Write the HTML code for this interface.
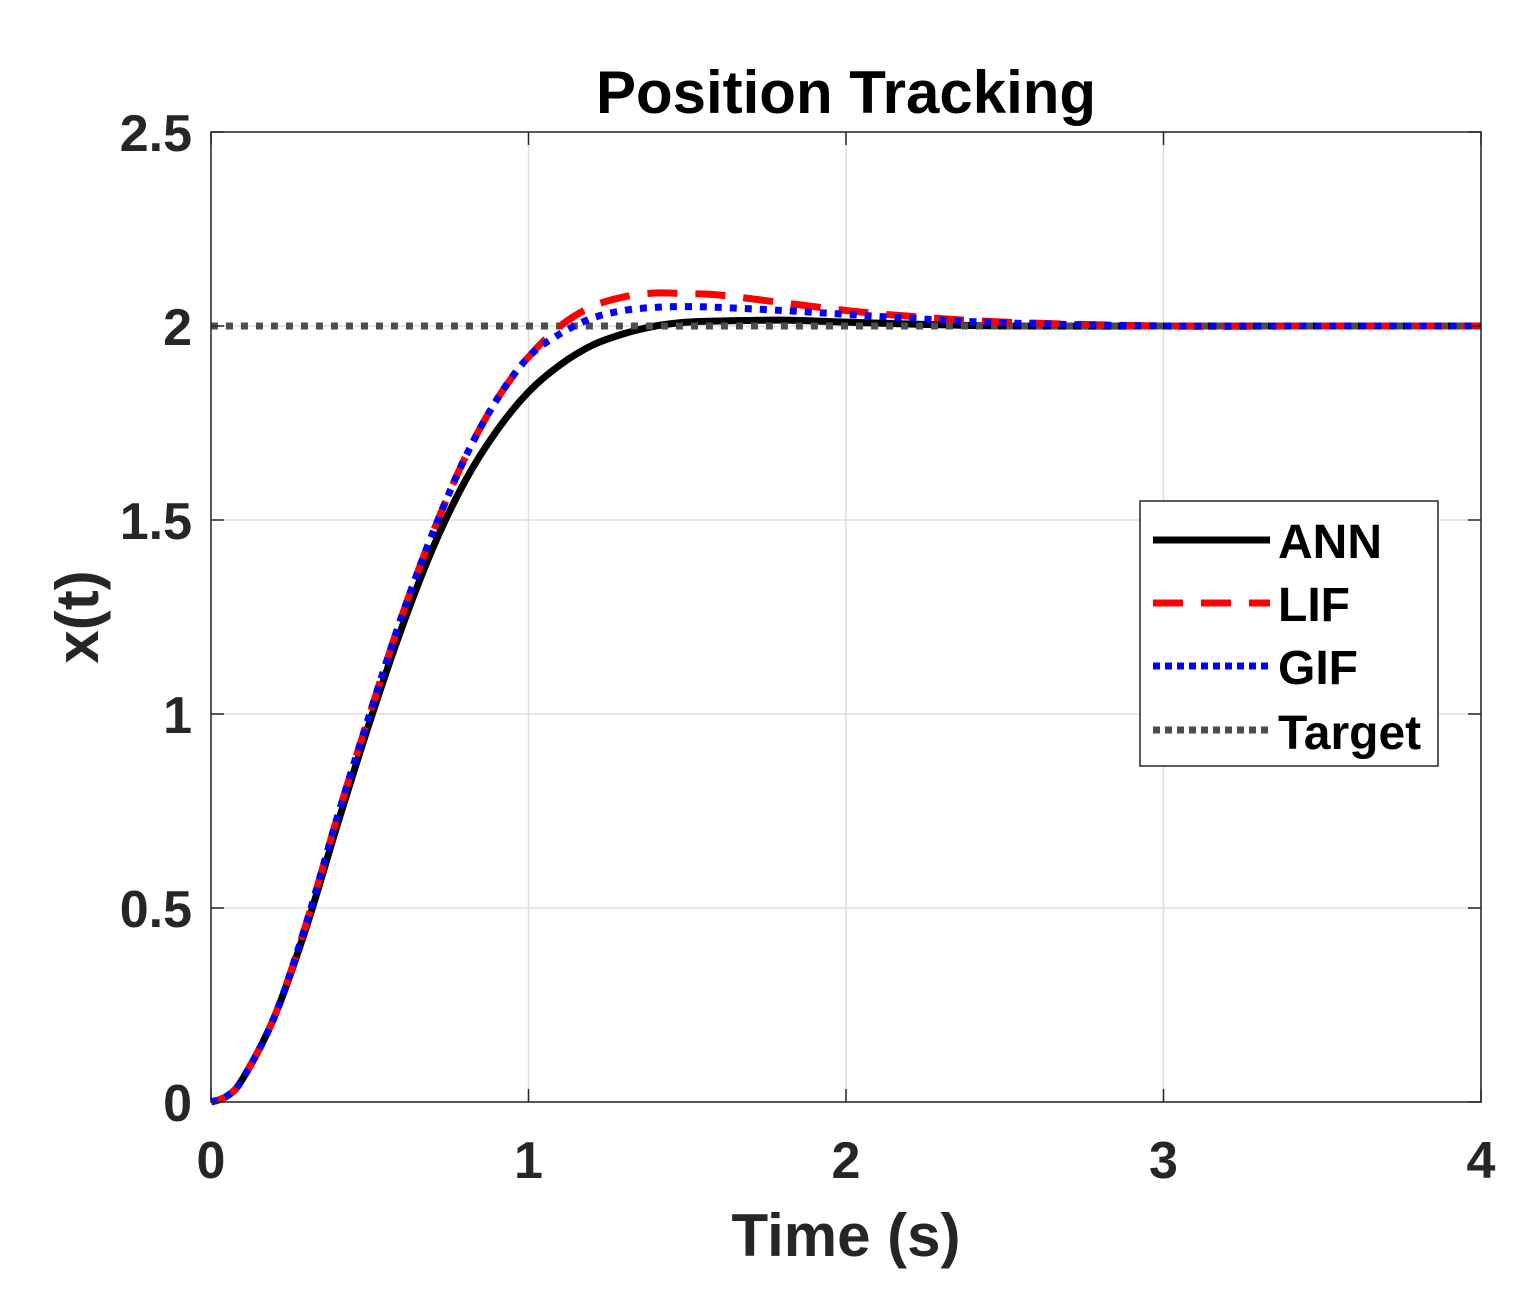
<!DOCTYPE html>
<html><head><meta charset="utf-8"><style>
body{margin:0;background:#fff;}
text{font-family:"Liberation Sans",sans-serif;font-weight:bold;fill:#262626;}
</style></head><body>
<svg id="chart" width="1522" height="1294" xmlns="http://www.w3.org/2000/svg">
<rect width="1522" height="1294" fill="#fff"/>
<g id="grid"></g>
<g id="series"></g>
<rect x="211" y="132" width="1270" height="970" fill="none" stroke="#262626" stroke-width="1.5"/>
<g id="ticks"></g>
<text x="846" y="113" font-size="60" text-anchor="middle" style="fill:#000">Position Tracking</text>
<text x="846" y="1256" font-size="60" text-anchor="middle">Time (s)</text>
<text transform="translate(98,617) rotate(-90)" font-size="60" text-anchor="middle">x(t)</text>
<g>
<rect x="1140" y="501" width="298" height="265" fill="#fff" stroke="#262626" stroke-width="1.5"/>
<line x1="1153" y1="540" x2="1270" y2="540" stroke="#000" stroke-width="7"/>
<line x1="1153" y1="603" x2="1270" y2="603" stroke="#f00" stroke-width="7" stroke-dasharray="30 18"/>
<line x1="1153" y1="666" x2="1270" y2="666" stroke="#00f" stroke-width="7" stroke-dasharray="7 5"/>
<line x1="1153" y1="730" x2="1270" y2="730" stroke="#4d4d4d" stroke-width="7" stroke-dasharray="7 5"/>
<text x="1278" y="558" font-size="48" style="fill:#000">ANN</text>
<text x="1278" y="621" font-size="48" style="fill:#000">LIF</text>
<text x="1278" y="684" font-size="48" style="fill:#000">GIF</text>
<text x="1278" y="749" font-size="48" style="fill:#000">Target</text>
</g>
</svg>
<script>
const times=[0,0.05,0.1,0.2,0.3,0.4,0.5,0.6,0.7,0.8,0.9,1.0,1.1,1.2,1.3,1.4,1.5,1.6,1.8,2.0,2.2,2.5,3,3.5,4];
const ann=[0,0.015,0.06,0.22,0.45,0.72,0.98,1.22,1.43,1.60,1.73,1.83,1.90,1.95,1.98,2.0,2.01,2.013,2.015,2.01,2.005,2.0,2,2,2];
const lif=[0,0.015,0.06,0.22,0.46,0.74,1.0,1.25,1.47,1.66,1.81,1.92,2.0,2.05,2.075,2.085,2.083,2.08,2.06,2.04,2.025,2.01,2,2,2];
const gif=[0,0.015,0.06,0.22,0.46,0.74,1.0,1.25,1.47,1.66,1.81,1.92,1.98,2.02,2.04,2.048,2.05,2.048,2.04,2.03,2.02,2.008,2,2,2];
const target=[2,2];
const targetTimes=[0,4];
const xTicks=[0,1,2,3,4];
const yTicks=[0,0.5,1,1.5,2,2.5];
const yTickLabels=["0","0.5","1","1.5","2","2.5"];
const X=t=>211+t/4*1270, Y=v=>1102-v/2.5*970;
const NS="http://www.w3.org/2000/svg";
const grid=document.getElementById('grid'),ticks=document.getElementById('ticks'),series=document.getElementById('series');
function mk(tag,attrs,parent){const e=document.createElementNS(NS,tag);for(const k in attrs)e.setAttribute(k,attrs[k]);parent.appendChild(e);return e;}
xTicks.forEach(t=>{
 const g=mk('line',{x1:X(t),x2:X(t),y1:132,y2:1102,stroke:'#dfdfdf','stroke-width':1.5},grid);
 
 
 mk('line',{x1:X(t),x2:X(t),y1:1102,y2:1089,stroke:'#262626','stroke-width':1.5},ticks);
 mk('line',{x1:X(t),x2:X(t),y1:132,y2:145,stroke:'#262626','stroke-width':1.5},ticks);
 const tx=mk('text',{x:X(t),y:1178,'font-size':52,'text-anchor':'middle'},ticks);
 tx.textContent=t;
 
 
});
yTicks.forEach((v,i)=>{
 const g=mk('line',{x1:211,x2:1481,y1:Y(v),y2:Y(v),stroke:'#dfdfdf','stroke-width':1.5},grid);
 
 
 mk('line',{x1:211,x2:224,y1:Y(v),y2:Y(v),stroke:'#262626','stroke-width':1.5},ticks);
 mk('line',{x1:1468,x2:1481,y1:Y(v),y2:Y(v),stroke:'#262626','stroke-width':1.5},ticks);
 const tx=mk('text',{x:192,y:Y(v)+19,'font-size':52,'text-anchor':'end'},ticks);
 tx.textContent=yTickLabels[i];
 
 
});
function path(ts,vs){
 const p=ts.map((t,i)=>[X(t),Y(vs[i])]);
 let d='M'+p[0][0]+','+p[0][1];
 for(let i=0;i<p.length-1;i++){
  const p0=p[Math.max(0,i-1)],p1=p[i],p2=p[i+1],p3=p[Math.min(p.length-1,i+2)];
  const c1=[p1[0]+(p2[0]-p0[0])/6,p1[1]+(p2[1]-p0[1])/6],c2=[p2[0]-(p3[0]-p1[0])/6,p2[1]-(p3[1]-p1[1])/6];
  d+=` C${c1[0]},${c1[1]} ${c2[0]},${c2[1]} ${p2[0]},${p2[1]}`;
 }
 return d;
}
const a=mk('path',{d:path(times,ann),fill:'none',stroke:'#000','stroke-width':7},series);


const tg=mk('path',{d:path(targetTimes,target),fill:'none',stroke:'#4d4d4d','stroke-width':7,'stroke-dasharray':'7 8'},series);


const l=mk('path',{d:path(times,lif),fill:'none',stroke:'#f00','stroke-width':7,'stroke-dasharray':'30 18'},series);


const g=mk('path',{d:path(times,gif),fill:'none',stroke:'#00f','stroke-width':7,'stroke-dasharray':'7 8'},series);


</script>
</body></html>
